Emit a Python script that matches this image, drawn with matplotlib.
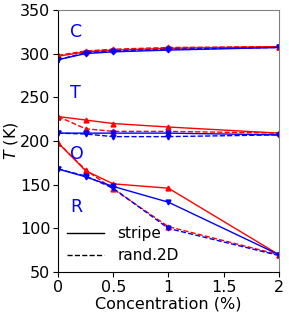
import matplotlib
matplotlib.use("Agg")
import matplotlib.pyplot as plt
from matplotlib.lines import Line2D

conc = [0, 0.25, 0.5, 1, 2]

# upper transition (C)
c_stripe_red = [297, 302, 304, 306, 308]
c_rand_red = [298, 303, 305, 307, 308]
c_stripe_blue = [293, 300, 302, 304, 307]
c_rand_blue = [293, 301, 303, 305, 307]

# T
t_stripe_red = [228, 224, 220, 216, 209]
t_rand_red = [228, 214, 211, 211, 209]
t_stripe_blue = [209, 209, 209, 209, 207]
t_rand_blue = [209, 208, 205, 205, 207]

# O / R
o_stripe_red = [198, 166, 151, 146, 70]
o_rand_red = [198, 167, 145, 102, 70]
o_stripe_blue = [168, 159, 148, 130, 70]
o_rand_blue = [168, 160, 146, 100, 69]

fig = plt.figure(figsize=(2.89, 3.19), dpi=100)
ax = fig.add_axes([0.2007, 0.147, 0.764, 0.822])

kw = dict(lw=1, ms=3.5)
for ys in (c_stripe_red, t_stripe_red, o_stripe_red):
    ax.plot(conc, ys, '-', color='red', marker='^', **kw)
for ys in (c_rand_red, t_rand_red, o_rand_red):
    ax.plot(conc, ys, '--', color='red', marker='^', **kw)
for ys in (c_stripe_blue, t_stripe_blue, o_stripe_blue):
    ax.plot(conc, ys, '-', color='blue', marker='v', **kw)
for ys in (c_rand_blue, t_rand_blue, o_rand_blue):
    ax.plot(conc, ys, '--', color='blue', marker='v', **kw)

for lab, yv in [('C', 325), ('T', 255), ('O', 185), ('R', 124)]:
    ax.text(0.11, yv, lab, color='blue', fontsize=12.5, va='center')

ax.set_xlim(0, 2)
ax.set_ylim(50, 350)
ax.set_xticks([0, 0.5, 1, 1.5, 2])
ax.set_xticklabels(['0', '0.5', '1', '1.5', '2'])
ax.set_yticks([50, 100, 150, 200, 250, 300, 350])
ax.tick_params(labelsize=11.5, length=3.5, pad=2)
ax.set_xlabel('Concentration (%)', fontsize=11.5, labelpad=1)
ax.set_ylabel('$T$ (K)', fontsize=11.5)
ax.yaxis.set_label_coords(-0.172, 0.5)
for s in ('top', 'right'):
    ax.spines[s].set_color('grey')

handles = [Line2D([], [], color='black', ls='-', lw=1),
           Line2D([], [], color='black', ls='--', lw=1)]
ax.legend(handles, ['stripe', 'rand.2D'], loc='lower left', frameon=False,
          fontsize=11, borderaxespad=0.2, handlelength=2.4, handletextpad=0.9,
          labelspacing=0.45)

fig.savefig('out.png', dpi=100)
